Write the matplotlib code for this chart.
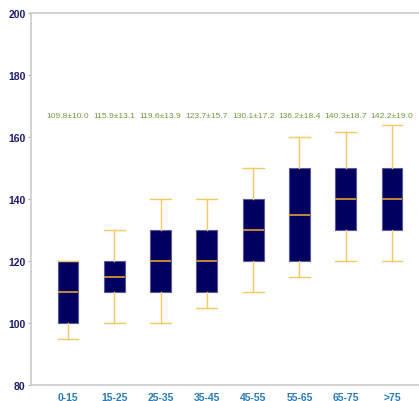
import numpy as np
import matplotlib
matplotlib.use("Agg")
import matplotlib.pyplot as plt

groups = ["0-15", "15-25", "25-35", "35-45", "45-55", "55-65", "65-75", ">75"]
whislo = [95, 100, 100, 105, 110, 115, 120, 120]
q1 = [100, 110, 110, 110, 120, 120, 130, 130]
med = [110, 115, 120, 120, 130, 135, 140, 140]
q3 = [120, 120, 130, 130, 140, 150, 150, 150]
whishi = [120, 130, 140, 140, 150, 160, 161.5, 164]
labels = ["109.8±10.0", "115.9±13.1", "119.6±13.9", "123.7±15.7",
          "130.1±17.2", "136.2±18.4", "140.3±18.7", "142.2±19.0"]

stats = []
for i in range(len(groups)):
    stats.append({'whislo': whislo[i], 'q1': q1[i], 'med': med[i], 'q3': q3[i],
                  'whishi': whishi[i], 'fliers': [], 'label': groups[i]})

plt.rcParams['font.family'] = ['Liberation Sans', 'DejaVu Sans']

fig = plt.figure(figsize=(4.19, 4.02), dpi=100)
ax = fig.add_axes([31 / 419, 16 / 402, 398 / 419, 372 / 402])

pos = np.arange(1, len(groups) + 1)
ax.bxp(stats, positions=pos, widths=0.45, patch_artist=True,
       boxprops=dict(facecolor='#000060', edgecolor='#5a5a9a', linewidth=0.8),
       medianprops=dict(color='#e0a030', linewidth=1.2),
       whiskerprops=dict(color='#f5c860', linewidth=1.0),
       capprops=dict(color='#f5c860', linewidth=1.0),
       capwidths=0.45)

for i in range(len(groups)):
    ax.text(pos[i], 167, labels[i], ha='center', va='center', fontsize=6.1,
            color='#6e9a3a')

ax.set_xlim(0.2, 8.8)
ax.set_ylim(80, 200)
ax.set_yticks([80, 100, 120, 140, 160, 180, 200])
ax.set_xticks(pos)
ax.set_xticklabels(groups)
for t in ax.get_yticklabels():
    t.set_color('#1c1c6c')
    t.set_fontweight('bold')
    t.set_fontsize(7.5)
for t in ax.get_xticklabels():
    t.set_color('#2a7ab8')
    t.set_fontweight('bold')
    t.set_fontsize(7.5)
ax.tick_params(axis='y', length=2, color='#aaaaaa', pad=2)
ax.tick_params(axis='x', length=0, pad=5)
for s in ax.spines.values():
    s.set_color('#cccccc')
    s.set_linewidth(1.2)

fig.savefig('out.png', dpi=100)
